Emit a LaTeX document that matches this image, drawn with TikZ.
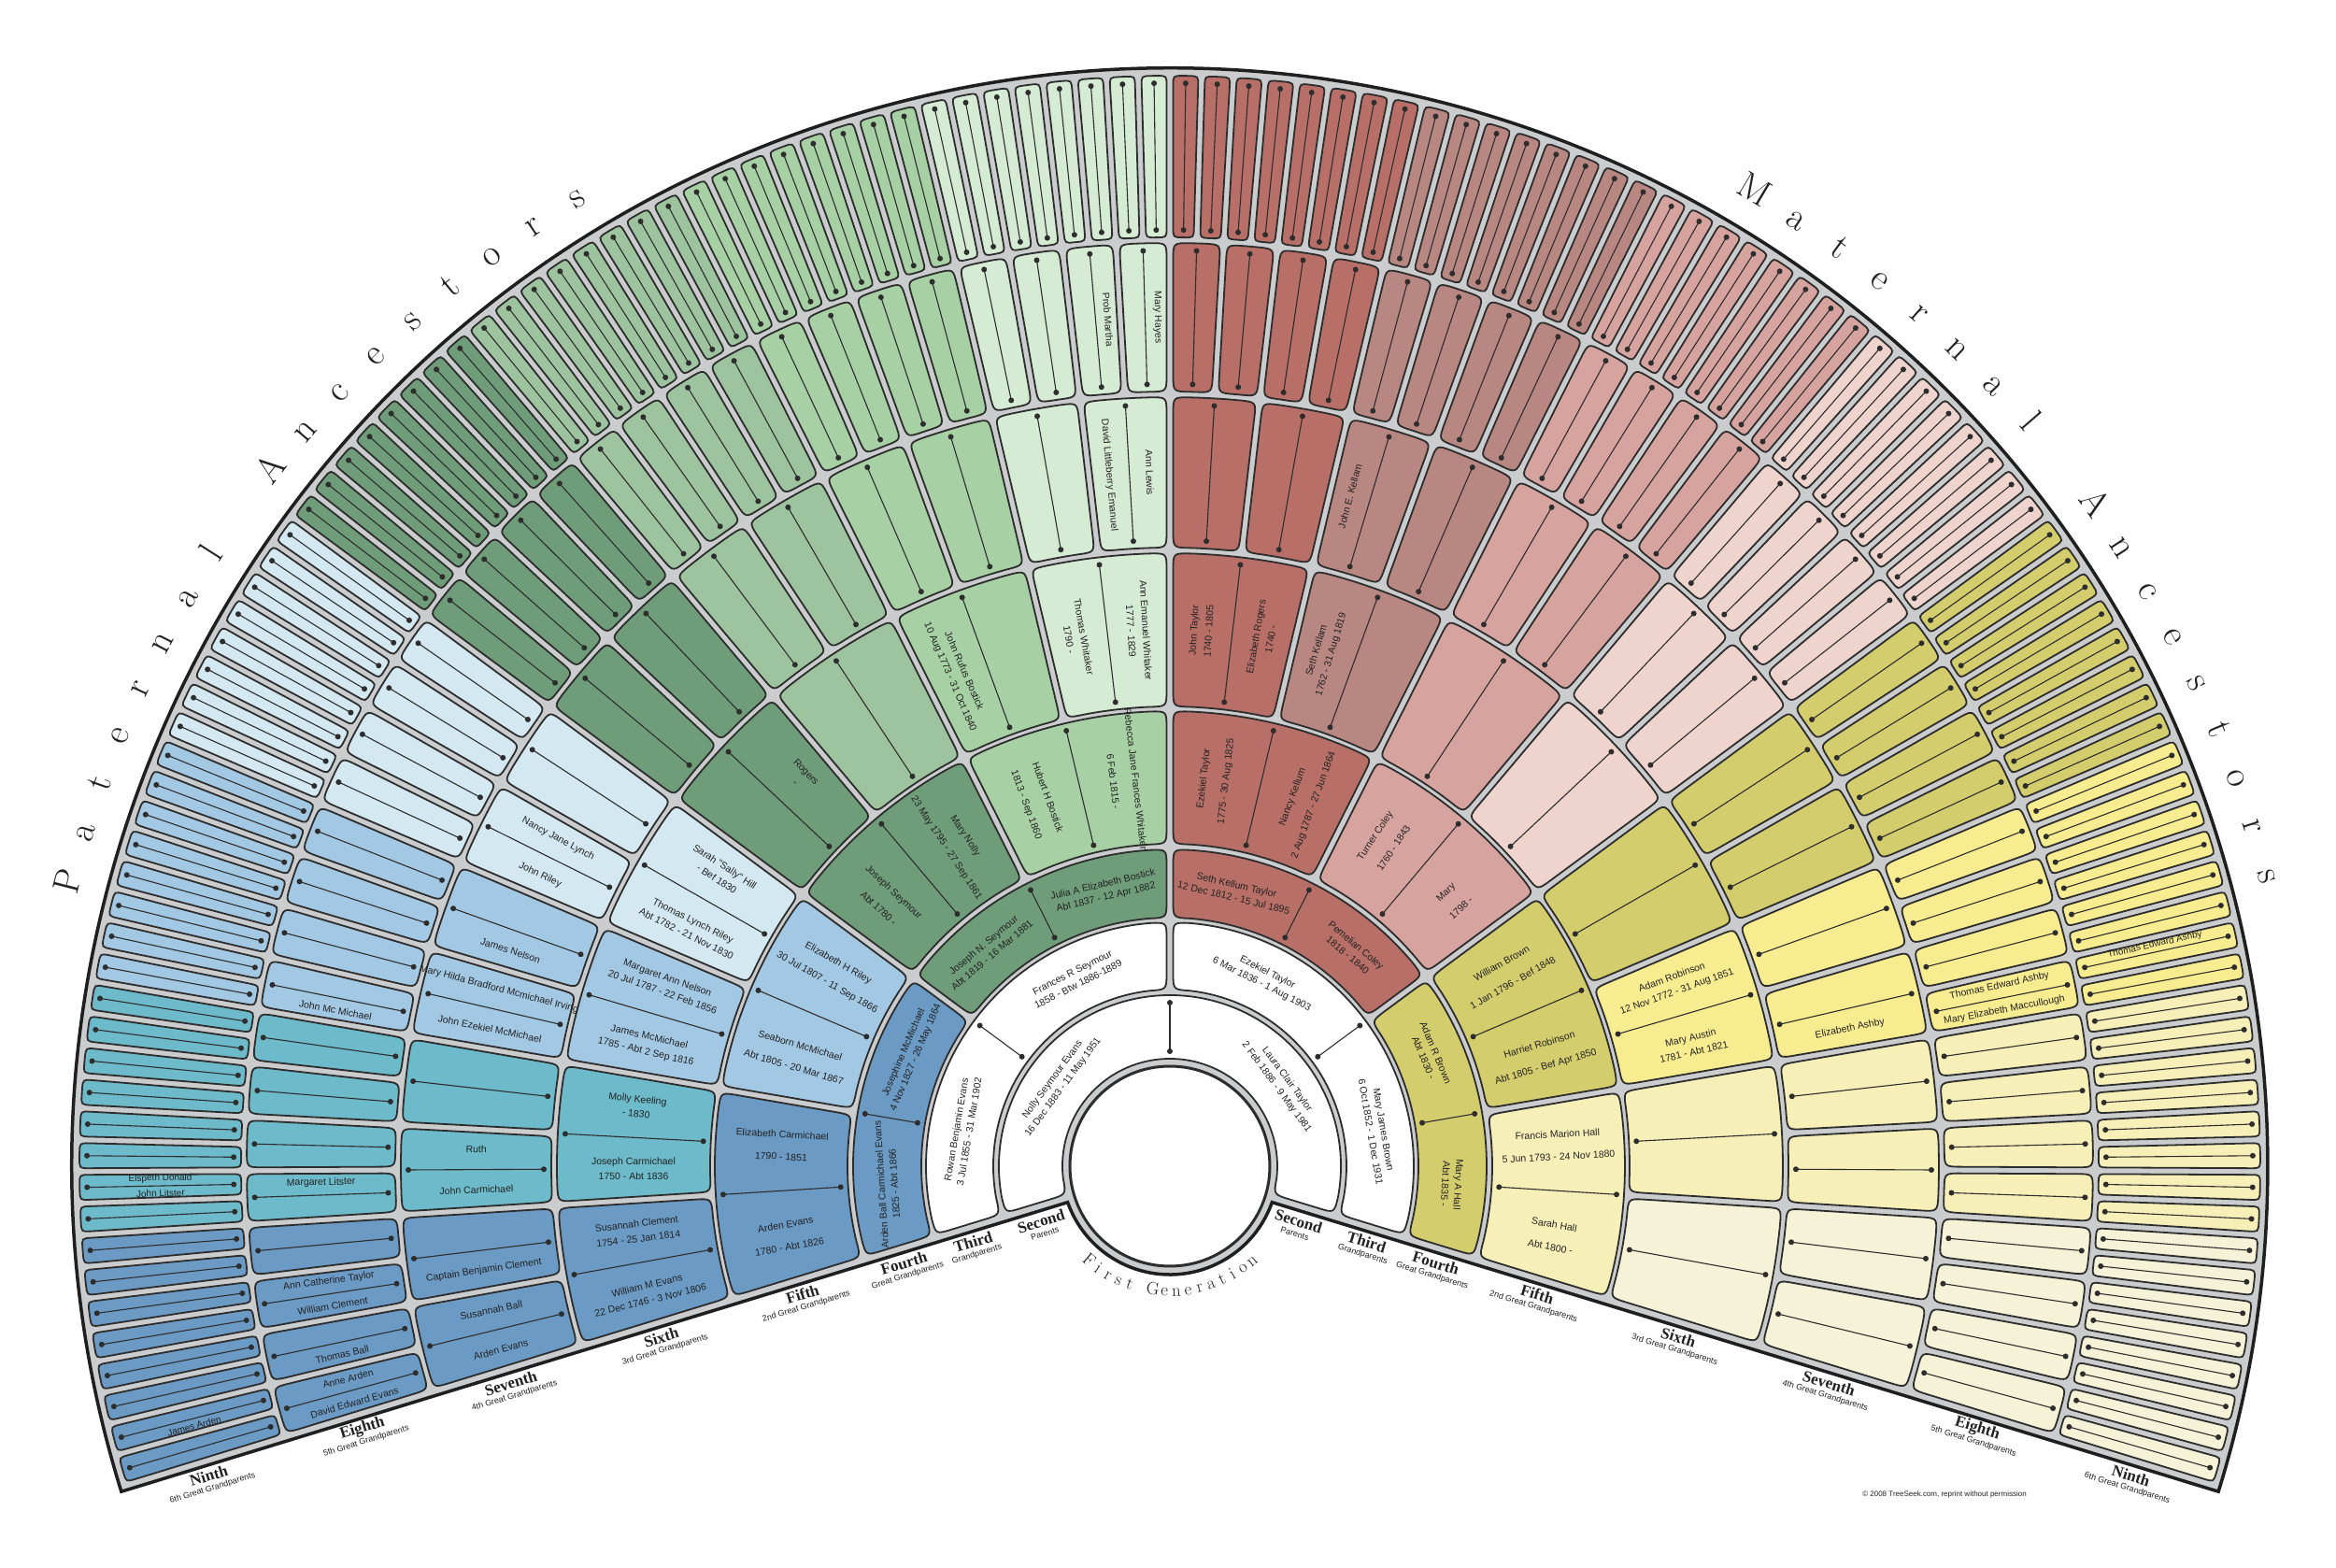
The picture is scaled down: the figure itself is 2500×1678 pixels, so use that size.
\documentclass[tikz,border=0pt]{standalone}
\usepackage{fontspec}
\newfontfamily\sansf{Liberation Sans}
\newfontfamily\serifb{Liberation Serif}
\usetikzlibrary{calc}

\definecolor{fanbg}{HTML}{CBCCCD}
\definecolor{lineC}{HTML}{2D2D2D}
\definecolor{txtC}{HTML}{222222}
\definecolor{c00}{HTML}{6B9AC4}
\definecolor{c01}{HTML}{6DBACA}
\definecolor{c02}{HTML}{A3C8E4}
\definecolor{c03}{HTML}{D3E8F0}
\definecolor{c10}{HTML}{6F9D79}
\definecolor{c11}{HTML}{9DC49F}
\definecolor{c12}{HTML}{A7D0A4}
\definecolor{c13}{HTML}{D6EBD4}
\definecolor{c20}{HTML}{B86F67}
\definecolor{c21}{HTML}{B98782}
\definecolor{c22}{HTML}{D7A39E}
\definecolor{c23}{HTML}{EFD3CD}
\definecolor{c30}{HTML}{D4CD6E}
\definecolor{c31}{HTML}{F8EC90}
\definecolor{c32}{HTML}{F7EFB8}
\definecolor{c33}{HTML}{F6F2D7}

\def\RinA{{0,0,115,189,266,345,492,662,829,994}}
\def\RoutA{{0,0,183,261,339,487,656,823,988,1167}}
\def\hg{3.5}

% rounded annular sector: #1 inner r, #2 outer r, #3 high angle, #4 low angle, #5 colour
\newcommand\FanBox[5]{%
  \pgfmathsetmacro\rA{#1}%
  \pgfmathsetmacro\rB{#2}%
  \pgfmathsetmacro\aH{#3}%
  \pgfmathsetmacro\aL{#4}%
  \pgfmathsetmacro\wdd{\rA/57.29578*(\aH-\aL)-2*\hg}%
  \pgfmathsetmacro\crad{min(18,0.48*\wdd,0.4*(\rB-\rA))}%
  \pgfmathsetmacro\kk{\hg*57.29578}%
  \pgfmathsetmacro\ccd{\crad*57.29578}%
  \pgfmathsetmacro\rAc{\rA+\crad}%
  \pgfmathsetmacro\rBc{\rB-\crad}%
  \pgfmathsetmacro\lA{\aL+\kk/\rAc}%
  \pgfmathsetmacro\lB{\aL+\kk/\rBc}%
  \pgfmathsetmacro\lC{\aL+\kk/\rB}%
  \pgfmathsetmacro\lD{\aL+(\kk+\ccd)/\rB}%
  \pgfmathsetmacro\hD{\aH-(\kk+\ccd)/\rB}%
  \pgfmathsetmacro\hC{\aH-\kk/\rB}%
  \pgfmathsetmacro\hB{\aH-\kk/\rBc}%
  \pgfmathsetmacro\hA{\aH-\kk/\rAc}%
  \pgfmathsetmacro\hE{\aH-\kk/\rA}%
  \pgfmathsetmacro\hF{\aH-(\kk+\ccd)/\rA}%
  \pgfmathsetmacro\lF{\aL+(\kk+\ccd)/\rA}%
  \pgfmathsetmacro\lE{\aL+\kk/\rA}%
  \filldraw[cell, fill=#5] (\lA:\rAc) -- (\lB:\rBc) .. controls (\lC:\rB) .. (\lD:\rB)
    arc[start angle=\lD, end angle=\hD, radius=\rB]
    .. controls (\hC:\rB) .. (\hB:\rBc) -- (\hA:\rAc)
    .. controls (\hE:\rA) .. (\hF:\rA)
    arc[start angle=\hF, end angle=\lF, radius=\rA]
    .. controls (\lE:\rA) .. (\lA:\rAc) -- cycle;%
}

\newcommand\ptfont[1]{\sansf\ifcase#1\or\or\fontsize{10.5}{14}\or\fontsize{10.5}{14}\or\fontsize{10.5}{14}\or\fontsize{10.5}{24}\or\fontsize{10.5}{16}\or\fontsize{10.5}{13}\or\fontsize{10.5}{13}\or\fontsize{10}{12}\fi\selectfont}

% person text: #1 generation, #2 half index from the left, #3 text
\newcommand\Per[3]{%
  \pgfmathsetmacro\pang{197-214/2^(#1-1)*(#2+0.5)}%
  \pgfmathsetmacro\pra{\RinA[#1]}%
  \pgfmathsetmacro\prb{\RoutA[#1]}%
  \pgfmathsetmacro\prad{(\pra+\prb)/2}%
  \pgfmathsetmacro\prot{#1<5 ? \pang-90 : (\pang>90 ? \pang-180 : \pang)}%
  \node[ptext, font=\ptfont{#1}, rotate=\prot] (p-#1-#2) at (\pang:\prad) {#3};%
}

\begin{document}
\begin{tikzpicture}[x=1pt,y=1pt,
  cell/.style={draw=lineC, line width=1.8},
  divl/.style={draw=lineC, line width=1.1},
  ptext/.style={text=txtC, align=center, inner sep=0pt},
  genlab/.style={font=\serifb\bfseries\fontsize{17}{18}\selectfont, text=txtC, inner sep=0pt},
  gensub/.style={font=\sansf\fontsize{9}{10}\selectfont, text=txtC, inner sep=0pt},
  bigl/.style={font=\fontsize{40}{40}\selectfont, text=txtC, inner sep=0pt, anchor=base},
  fgl/.style={font=\fontsize{19}{19}\selectfont, text=txtC, inner sep=0pt, anchor=base}]
\useasboundingbox (-1252,-430) rectangle (1248,1248);
\fill[white] (-1252,-430) rectangle (1248,1248);

% fan background and outline
\filldraw[fill=fanbg, draw=black!88, line width=3.5]
  (199.47:116) -- (197.24:1175) arc[start angle=197.24, end angle=-17.24, radius=1175]
  -- (-19.47:116) arc[start angle=-19.47, end angle=-160.53, radius=116] -- cycle;

% all boxes with their dividers
\foreach \g in {2,...,9}{%
  \pgfmathtruncatemacro\nb{round(2^(\g-2))}%
  \pgfmathsetmacro\stp{214/\nb}%
  \pgfmathtruncatemacro\nm{\nb-1}%
  \pgfmathsetmacro\Ra{\RinA[\g]}%
  \pgfmathsetmacro\Rb{\RoutA[\g]}%
  \foreach \i in {0,...,\nm}{%
    \pgfmathsetmacro\aHi{197-\i*\stp}%
    \pgfmathsetmacro\aLo{197-(\i+1)*\stp}%
    \ifnum\g<4 \def\col{white}\else
      \pgfmathtruncatemacro\w{\g>5 ? floor((\i+0.5)/2^(\g-6)) : round(\i*2^(6-\g))}%
      \pgfmathtruncatemacro\q{floor((\w+0.5)/4)}%
      \pgfmathtruncatemacro\s{\w-4*\q}%
      \edef\col{c\q\s}%
    \fi
    \FanBox{\Ra}{\Rb}{\aHi}{\aLo}{\col}%
    \pgfmathsetmacro\mA{(\aHi+\aLo)/2}%
    \pgfmathsetmacro\dA{\Ra+8}%
    \pgfmathsetmacro\dB{\Rb-8}%
    \draw[divl] (\mA:\dA) -- (\mA:\dB);
    \fill[lineC] (\mA:\dA) circle[radius=3] (\mA:\dB) circle[radius=3];
  }%
}

% centre circle
\filldraw[fill=white, draw=lineC, line width=3] (0,0) circle[radius=107];

% names
\Per{2}{0}{Nolly Seymour Evans\\16 Dec 1883 - 11 May 1951}
\Per{2}{1}{Laura Clair Taylor\\2 Feb 1886 - 9 May 1981}
\Per{3}{0}{Rowan Benjamin Evans\\3 Jul 1855 - 31 Mar 1902}
\Per{3}{1}{Frances R Seymour\\1858 - Btw 1886-1889}
\Per{3}{2}{Ezekiel Taylor\\6 Mar 1836 - 1 Aug 1903}
\Per{3}{3}{Mary James Brown\\6 Oct 1852 - 1 Dec 1931}
\Per{4}{0}{Arden Ball Carmichael Evans\\1825 - Abt 1866}
\Per{4}{1}{Josephine McMichael\\4 Nov 1827 - 26 May 1864}
\Per{4}{2}{Joseph N. Seymour\\Abt 1819 - 16 Mar 1881}
\Per{4}{3}{Julia A Elizabeth Bostick\\Abt 1837 - 12 Apr 1882}
\Per{4}{4}{Seth Kellum Taylor\\12 Dec 1812 - 15 Jul 1895}
\Per{4}{5}{Pemelian Coley\\1818 - 1840}
\Per{4}{6}{Adam R Brown\\Abt 1830 -}
\Per{4}{7}{Mary A Hall\\Abt 1835 -}
\Per{5}{0}{Arden Evans\\1780 - Abt 1826}
\Per{5}{1}{Elizabeth Carmichael\\1790 - 1851}
\Per{5}{2}{Seaborn McMichael\\Abt 1805 - 20 Mar 1867}
\Per{5}{3}{Elizabeth H Riley\\30 Jul 1807 - 11 Sep 1866}
\Per{5}{4}{Joseph Seymour\\Abt 1780 -}
\Per{5}{5}{Mary Nolly\\23 May 1795 - 27 Sep 1861}
\Per{5}{6}{Hubert H Bostick\\1813 - Sep 1860}
\Per{5}{7}{Rebecca Jane Frances Whitaker\\6 Feb 1815 -}
\Per{5}{8}{Ezekiel Taylor\\1775 - 30 Aug 1825}
\Per{5}{9}{Nancy Kellum\\2 Aug 1787 - 27 Jun 1864}
\Per{5}{10}{Turner Coley\\1760 - 1843}
\Per{5}{11}{Mary\\1798 -}
\Per{5}{12}{William Brown\\1 Jan 1796 - Bef 1848}
\Per{5}{13}{Harriet Robinson\\Abt 1805 - Bef Apr 1850}
\Per{5}{14}{Francis Marion Hall\\5 Jun 1793 - 24 Nov 1880}
\Per{5}{15}{Sarah Hall\\Abt 1800 -}
\Per{6}{0}{William M Evans\\22 Dec 1746 - 3 Nov 1806}
\Per{6}{1}{Susannah Clement\\1754 - 25 Jan 1814}
\Per{6}{2}{Joseph Carmichael\\1750 - Abt 1836}
\Per{6}{3}{Molly Keeling\\- 1830}
\Per{6}{4}{James McMichael\\1785 - Abt 2 Sep 1816}
\Per{6}{5}{Margaret Ann Nelson\\20 Jul 1787 - 22 Feb 1856}
\Per{6}{6}{Thomas Lynch Riley\\Abt 1782 - 21 Nov 1830}
\Per{6}{7}{Sarah "Sally" Hill\\- Bef 1830}
\Per{6}{9}{Rogers\\-}
\Per{6}{12}{John Rufus Bostick\\10 Aug 1773 - 31 Oct 1840}
\Per{6}{14}{Thomas Whitaker\\1790 -}
\Per{6}{15}{Ann Emanuel Whitaker\\1777 - 1829}
\Per{6}{16}{John Taylor\\1740 - 1805}
\Per{6}{17}{Elizabeth Rogers\\1740 -}
\Per{6}{18}{Seth Kellam\\1762 - 31 Aug 1819}
\Per{6}{26}{Adam Robinson\\12 Nov 1772 - 31 Aug 1851}
\Per{6}{27}{Mary Austin\\1781 - Abt 1821}
\Per{7}{0}{Arden Evans}
\Per{7}{1}{Susannah Ball}
\Per{7}{2}{Captain Benjamin Clement}
\Per{7}{4}{John Carmichael}
\Per{7}{5}{Ruth}
\Per{7}{8}{John Ezekiel McMichael}
\Per{7}{9}{Mary Hilda Bradford Mcmichael Irving}
\Per{7}{10}{James Nelson}
\Per{7}{12}{John Riley}
\Per{7}{13}{Nancy Jane Lynch}
\Per{7}{30}{David Littleberry Emanuel}
\Per{7}{31}{Ann Lewis}
\Per{7}{36}{John E. Kellam}
\Per{7}{55}{Elizabeth Ashby}
\Per{8}{0}{David Edward Evans}
\Per{8}{1}{Anne Arden}
\Per{8}{2}{Thomas Ball}
\Per{8}{4}{William Clement}
\Per{8}{5}{Ann Catherine Taylor}
\Per{8}{9}{Margaret Litster}
\Per{8}{16}{John Mc Michael}
\Per{8}{61}{Prob Martha}
\Per{8}{63}{Mary Hayes}
\Per{8}{110}{Thomas Edward Ashby}
\Per{8}{111}{Mary Elizabeth Maccullough}
\Per{9}{2}{James Arden}
\Per{9}{18}{John Litster}
\Per{9}{19}{Elspeth Donald}
\Per{9}{220}{Thomas Edward Ashby}

% generation labels along the two bottom edges
\foreach \g/\ord/\sub in {2/Second/Parents,3/Third/Grandparents,4/Fourth/Great Grandparents,5/Fifth/2nd Great Grandparents,6/Sixth/3rd Great Grandparents,7/Seventh/4th Great Grandparents,8/Eighth/5th Great Grandparents,9/Ninth/6th Great Grandparents}{%
  \pgfmathsetmacro\lra{\RinA[\g]}%
  \pgfmathsetmacro\lrb{\RoutA[\g]}%
  \pgfmathsetmacro\lr{(\lra+\lrb)/2}%
  \node[genlab, rotate=17] (gl-\g) at ($(197:\lr)+(287:16)$) {\ord};
  \node[gensub, rotate=17] (gs-\g) at ($(197:\lr)+(287:30)$) {\sub};
  \node[genlab, rotate=-17] (gr-\g) at ($(-17:\lr)+(-107:16)$) {\ord};
  \node[gensub, rotate=-17] (gt-\g) at ($(-17:\lr)+(-107:30)$) {\sub};
}

% curved titles
\foreach \ch [count=\k from 0] in {P,a,t,e,r,n,a,l,{},A,n,c,e,s,t,o,r,s}{%
  \pgfmathsetmacro\la{165.5-\k*44/17}%
  \pgfmathsetmacro\lrot{\la-90}%
  \node[bigl, rotate=\lrot] (pa-\k) at (\la:1205) {\ch};
}
\foreach \ch [count=\k from 0] in {M,a,t,e,r,n,a,l,{},A,n,c,e,s,t,o,r,s}{%
  \pgfmathsetmacro\la{59.1-\k*44.3/17}%
  \pgfmathsetmacro\lrot{\la-90}%
  \node[bigl, rotate=\lrot] (ma-\k) at (\la:1205) {\ch};
}
\foreach \ch [count=\k from 0] in {F,i,r,s,t,{},G,e,n,e,r,a,t,i,o,n}{%
  \pgfmathsetmacro\la{229.5+\k*81.5/15}%
  \pgfmathsetmacro\lrot{\la+90}%
  \node[fgl, rotate=\lrot] (fg-\k) at (\la:139) {\ch};
}

\node[font=\sansf\fontsize{8}{9}\selectfont, text=txtC, inner sep=0pt] (copy) at (829,-351) {© 2008 TreeSeek.com, reprint without permission};
\end{tikzpicture}
\end{document}
